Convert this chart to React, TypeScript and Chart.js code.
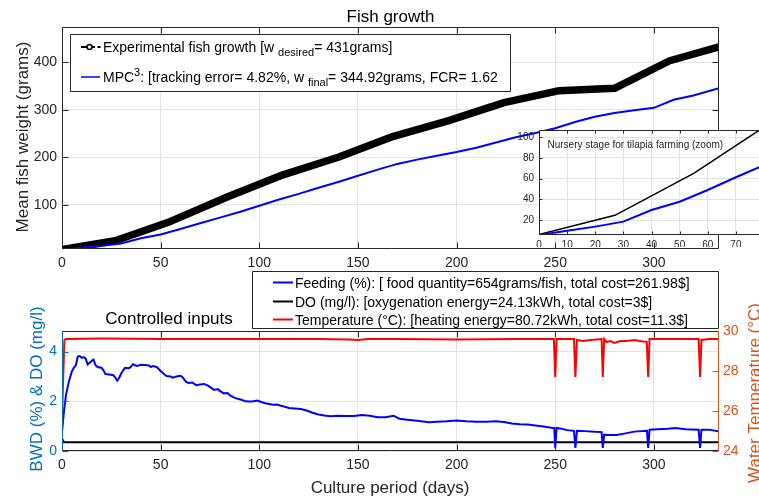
import React, { useEffect, useRef } from "react";
import { Chart, registerables } from "chart.js";

Chart.register(...registerables);

const FONT = '"Liberation Sans", Arial, Helvetica, sans-serif';
const AX = "#262626";
const GRID = "#e2e2e2";
const GRID2 = "#dfe3e8";
const LEFT_C = "#0072BD";
const RIGHT_C = "#D95319";

// ---------- Fish growth panel ----------
const expDays = [0, 27, 55, 84, 112, 140, 168, 196, 224, 252, 280, 308, 333];
const expWeight = [6, 24.5, 65, 117, 163, 200, 244, 277, 315, 340, 345, 403, 432];
const mpcDays = [0, 10, 20, 30, 40, 50, 60, 70, 80, 90, 100, 110, 120, 130, 140, 150, 160, 170, 180, 190, 200, 210, 220, 230, 240, 250, 260, 270, 280, 290, 300, 310, 320, 333];
const mpcWeight = [5.5, 9.6, 13.6, 18.4, 29.7, 37.7, 49, 61.3, 73, 85, 98, 111, 123, 136, 148, 161, 174, 186, 195, 203, 211, 220, 231, 242, 251, 261, 274, 285, 293, 299, 304, 321, 330, 345];
const growthXTicks = [0, 50, 100, 150, 200, 250, 300];
const growthYTicks = [100, 200, 300, 400];
const insetXTicks = [0, 10, 20, 30, 40, 50, 60, 70];
const insetYTicks = [20, 40, 60, 80, 100];

// ---------- Controlled inputs panel ----------
const feedDays = [0, 1, 2, 3.5, 5, 6, 7, 8, 9, 10, 11, 12, 13, 14, 15, 16, 17, 18, 20, 21, 22, 24, 26, 27, 28, 29, 30, 31, 32, 34, 35, 36, 37, 38, 40, 42, 44, 45, 46, 48, 49, 50, 52, 53, 55, 56, 58, 60, 61, 62, 63, 64, 66, 68, 70, 72, 74, 76, 77, 79, 80, 82, 84, 85, 87, 89, 91, 93, 95, 97, 99, 101, 103, 105, 107, 109, 111, 113, 115, 118, 121, 124, 127, 130, 133, 136, 140, 144, 148, 152, 156, 160, 164, 168, 171, 175, 180, 186, 190, 195, 200, 205, 210, 215, 220, 224, 228, 232, 236, 240, 244, 248, 249.5, 250, 250.7, 253, 256, 259.5, 260.2, 261, 265, 270, 273.5, 274.1, 274.8, 278, 281, 285, 290, 296.5, 297.1, 297.8, 302, 307, 311, 316, 322.7, 323.4, 324.1, 328, 333];
const feedValues = [0.75, 1.6, 2.25, 2.8, 3.2, 3.35, 3.45, 3.8, 3.82, 3.75, 3.78, 3.72, 3.48, 3.55, 3.62, 3.68, 3.45, 3.38, 3.35, 3.25, 3.1, 3.08, 3.05, 2.95, 2.83, 2.95, 3.12, 3.25, 3.35, 3.33, 3.4, 3.5, 3.45, 3.42, 3.47, 3.46, 3.44, 3.38, 3.42, 3.38, 3.3, 3.22, 3.08, 3.02, 3.0, 2.95, 3.0, 3.03, 2.98, 2.87, 2.78, 2.74, 2.76, 2.65, 2.68, 2.7, 2.63, 2.52, 2.46, 2.49, 2.42, 2.32, 2.33, 2.25, 2.16, 2.1, 2.06, 2.0, 1.99, 2.0, 2.03, 1.97, 1.92, 1.89, 1.86, 1.87, 1.82, 1.78, 1.73, 1.71, 1.69, 1.63, 1.54, 1.47, 1.43, 1.4, 1.42, 1.41, 1.41, 1.45, 1.42, 1.36, 1.36, 1.42, 1.3, 1.26, 1.22, 1.16, 1.18, 1.2, 1.23, 1.2, 1.18, 1.18, 1.2, 1.17, 1.11, 1.08, 1.07, 1.03, 0.99, 0.94, 0.93, 0.12, 0.93, 0.9, 0.84, 0.81, 0.12, 0.81, 0.8, 0.77, 0.76, 0.12, 0.65, 0.64, 0.64, 0.7, 0.78, 0.81, 0.12, 0.86, 0.88, 0.9, 0.93, 0.88, 0.86, 0.12, 0.86, 0.86, 0.78];
const doDays = [0, 1, 333];
const doValues = [0.5, 0.35, 0.35];
const tempDays = [0, 1.2, 2, 20, 50, 80, 100, 130, 145, 150, 155, 170, 200, 230, 249.3, 250, 250.7, 259.5, 260.2, 261, 264, 268, 273.5, 274.1, 274.8, 276, 278, 280, 283, 286, 290, 296.4, 297.1, 297.8, 305, 310, 322.7, 323.4, 324.1, 328, 333];
const tempValues = [25.7, 29.55, 29.6, 29.62, 29.6, 29.6, 29.6, 29.6, 29.58, 29.55, 29.6, 29.6, 29.57, 29.6, 29.6, 27.7, 29.6, 29.6, 27.7, 29.55, 29.5, 29.55, 29.6, 27.7, 29.6, 29.45, 29.5, 29.4, 29.5, 29.5, 29.55, 29.45, 27.7, 29.6, 29.6, 29.6, 29.6, 27.7, 29.55, 29.6, 29.6];
const leftYTicks = [0, 2, 4];
const rightYTicks = [24, 26, 28, 30];

const zip = (xs: number[], ys: number[]) => xs.map((x, i) => ({ x, y: ys[i] }));
const setTicks = (values: number[]) => (scale: any) => {
  scale.ticks = values.map((v) => ({ value: v }));
};
const fixWidth = (w: number) => (scale: any) => {
  scale.width = w;
};
const fixHeight = (h: number) => (scale: any) => {
  scale.height = h;
};

type Seg = { t: string; size?: number; dy?: number };
function drawRich(ctx: CanvasRenderingContext2D, x: number, y: number, segs: Seg[], base: number, color: string) {
  let cx = x;
  ctx.fillStyle = color;
  ctx.textAlign = "left";
  ctx.textBaseline = "alphabetic";
  for (const s of segs) {
    ctx.font = `${s.size ?? base}px ${FONT}`;
    ctx.fillText(s.t, cx, y + (s.dy ?? 0));
    cx += ctx.measureText(s.t).width;
  }
}
function drawRotated(ctx: CanvasRenderingContext2D, text: string, x: number, y: number, size: number, color: string) {
  ctx.save();
  ctx.translate(x, y);
  ctx.rotate(-Math.PI / 2);
  ctx.font = `${size}px ${FONT}`;
  ctx.fillStyle = color;
  ctx.textAlign = "center";
  ctx.textBaseline = "alphabetic";
  ctx.fillText(text, 0, 0);
  ctx.restore();
}
function drawText(ctx: CanvasRenderingContext2D, text: string, x: number, y: number, size: number, color: string, align: CanvasTextAlign = "center") {
  ctx.font = `${size}px ${FONT}`;
  ctx.fillStyle = color;
  ctx.textAlign = align;
  ctx.textBaseline = "alphabetic";
  ctx.fillText(text, x, y);
}
function seg(ctx: CanvasRenderingContext2D, x1: number, y1: number, x2: number, y2: number, c: string, w = 1) {
  ctx.strokeStyle = c;
  ctx.lineWidth = w;
  ctx.beginPath();
  ctx.moveTo(x1, y1);
  ctx.lineTo(x2, y2);
  ctx.stroke();
}

type FrameOpts = {
  xTicks: number[];
  yTicks: number[];
  y2Ticks?: number[];
  y2Id?: string;
  leftColor: string;
  rightColor: string;
  topColor: string;
  bottomColor: string;
  tickLen: number;
};
function framePlugin(o: FrameOpts) {
  return {
    id: "matlabFrame",
    afterDatasetsDraw(chart: any) {
      const { ctx, chartArea: a, scales } = chart;
      const L = Math.round(a.left) + 0.5;
      const R = Math.round(a.right) - 0.5;
      const T = Math.round(a.top) + 0.5;
      const B = Math.round(a.bottom) - 0.5;
      ctx.save();
      for (const v of o.xTicks) {
        const p = Math.round(scales.x.getPixelForValue(v)) + 0.5;
        seg(ctx, p, B, p, B - o.tickLen, o.bottomColor);
        seg(ctx, p, T, p, T + o.tickLen, o.topColor);
      }
      for (const v of o.yTicks) {
        const p = Math.round(scales.y.getPixelForValue(v)) + 0.5;
        seg(ctx, L, p, L + o.tickLen, p, o.leftColor);
        if (!o.y2Id) seg(ctx, R, p, R - o.tickLen, p, o.rightColor);
      }
      if (o.y2Id && o.y2Ticks) {
        for (const v of o.y2Ticks) {
          const p = Math.round(scales[o.y2Id].getPixelForValue(v)) + 0.5;
          seg(ctx, R, p, R - o.tickLen, p, o.rightColor);
        }
      }
      seg(ctx, L, T, R, T, o.topColor);
      seg(ctx, L, B, R, B, o.bottomColor);
      seg(ctx, L, T, L, B, o.leftColor);
      seg(ctx, R, T, R, B, o.rightColor);
      ctx.restore();
    },
  };
}

const tickFont = (size: number) => ({ family: FONT, size });

function topConfig(): any {
  return {
    type: "line",
    data: {
      datasets: [
        { data: zip(mpcDays, mpcWeight), borderColor: "#0000ff", borderWidth: 2, pointRadius: 0, tension: 0 },
        {
          data: zip(expDays, expWeight),
          borderColor: "#000000",
          backgroundColor: "#000000",
          borderWidth: 7.5,
          pointRadius: 0,
          borderCapStyle: "round",
          borderJoinStyle: "round",
          tension: 0,
        },
      ],
    },
    options: {
      responsive: false,
      animation: false,
      events: [],
      layout: { padding: { left: 0, top: 27, right: 40, bottom: 228 } },
      plugins: { legend: { display: false }, tooltip: { enabled: false }, title: { display: false } },
      scales: {
        x: {
          type: "linear",
          min: 0,
          max: 333,
          afterBuildTicks: setTicks(growthXTicks),
          afterFit: fixHeight(20),
          grid: { color: GRID, drawTicks: false },
          border: { display: false },
          ticks: { padding: 6, color: AX, font: tickFont(14), maxRotation: 0, autoSkip: false },
        },
        y: {
          type: "linear",
          min: 7,
          max: 474,
          afterBuildTicks: setTicks(growthYTicks),
          afterFit: fixWidth(62),
          grid: { color: GRID, drawTicks: false },
          border: { display: false },
          ticks: { padding: 5, color: AX, font: tickFont(14), autoSkip: false },
        },
      },
    },
    plugins: [
      framePlugin({ xTicks: growthXTicks, yTicks: growthYTicks, leftColor: AX, rightColor: AX, topColor: AX, bottomColor: AX, tickLen: 6 }),
      {
        id: "topExtras",
        afterDraw(chart: any) {
          const ctx: CanvasRenderingContext2D = chart.ctx;
          ctx.save();
          drawText(ctx, "Fish growth", 390.5, 21.5, 17, "#000");
          drawRotated(ctx, "Mean fish weight (grams)", 27.5, 137, 17, AX);
          // legend
          ctx.fillStyle = "#fff";
          ctx.fillRect(70.5, 34.5, 440, 57);
          seg(ctx, 70.5, 34.5, 510.5, 34.5, AX);
          seg(ctx, 70.5, 91.5, 510.5, 91.5, AX);
          seg(ctx, 70.5, 34.5, 70.5, 91.5, AX);
          seg(ctx, 510.5, 34.5, 510.5, 91.5, AX);
          seg(ctx, 81, 47, 95, 47, "#000", 2);
          seg(ctx, 97.5, 47, 100.5, 47, "#000", 2);
          ctx.beginPath();
          ctx.arc(89.5, 47, 2.5, 0, Math.PI * 2);
          ctx.fillStyle = "#fff";
          ctx.fill();
          ctx.lineWidth = 1.5;
          ctx.strokeStyle = "#000";
          ctx.stroke();
          drawRich(ctx, 103, 52, [
            { t: "Experimental fish growth [w " },
            { t: "desired", size: 11, dy: 4 },
            { t: "= 431grams]" },
          ], 14, "#000");
          seg(ctx, 81, 77, 100, 77, "#0000ff", 1.5);
          drawRich(ctx, 103, 82, [
            { t: "MPC" },
            { t: "3", size: 11, dy: -6 },
            { t: ": [tracking error= 4.82%, w " },
            { t: "final", size: 11, dy: 4 },
            { t: "= 344.92grams, FCR= 1.62" },
          ], 14, "#000");
          ctx.restore();
        },
      },
    ],
  };
}

function insetConfig(): any {
  return {
    type: "line",
    data: {
      datasets: [
        { data: zip(mpcDays, mpcWeight), borderColor: "#0000ff", borderWidth: 2, pointRadius: 0, tension: 0 },
        { data: zip(expDays, expWeight), borderColor: "#000000", borderWidth: 1.5, pointRadius: 0, tension: 0 },
      ],
    },
    options: {
      responsive: false,
      animation: false,
      events: [],
      layout: { padding: { left: 500, top: 130, right: 16, bottom: 250 } },
      plugins: { legend: { display: false }, tooltip: { enabled: false } },
      scales: {
        x: {
          type: "linear",
          min: 0,
          max: 80,
          afterBuildTicks: setTicks(insetXTicks),
          afterFit: fixHeight(12),
          grid: { color: GRID, drawTicks: false },
          border: { display: false },
          ticks: { padding: 4, color: AX, font: tickFont(10), maxRotation: 0, autoSkip: false },
        },
        y: {
          type: "linear",
          min: 5.5,
          max: 107,
          afterBuildTicks: setTicks(insetYTicks),
          afterFit: fixWidth(39),
          grid: { color: GRID, drawTicks: false },
          border: { display: false },
          ticks: { padding: 5, color: AX, font: tickFont(10), autoSkip: false },
        },
      },
    },
    plugins: [
      {
        id: "insetBg",
        beforeDraw(chart: any) {
          const { ctx, chartArea: a } = chart;
          ctx.save();
          ctx.fillStyle = "#fff";
          ctx.fillRect(a.left, a.top, a.right - a.left, a.bottom - a.top);
          ctx.restore();
        },
      },
      framePlugin({ xTicks: insetXTicks, yTicks: insetYTicks, leftColor: AX, rightColor: AX, topColor: AX, bottomColor: AX, tickLen: 3 }),
      {
        id: "insetText",
        afterDraw(chart: any) {
          const ctx: CanvasRenderingContext2D = chart.ctx;
          ctx.save();
          drawText(ctx, "Nursery stage for tilapia farming (zoom)", 547.5, 148, 10, AX, "left");
          ctx.restore();
        },
      },
    ],
  };
}

function bottomConfig(): any {
  return {
    type: "line",
    data: {
      datasets: [
        { data: zip(feedDays, feedValues), yAxisID: "y", borderColor: "#0000ff", borderWidth: 2, pointRadius: 0, tension: 0 },
        { data: zip(doDays, doValues), yAxisID: "y", borderColor: "#000000", borderWidth: 2, pointRadius: 0, tension: 0 },
        { data: zip(tempDays, tempValues), yAxisID: "y1", borderColor: "#ff0000", borderWidth: 2, pointRadius: 0, tension: 0 },
      ],
    },
    options: {
      responsive: false,
      animation: false,
      events: [],
      layout: { padding: { left: 0, top: 331, right: 0, bottom: 26 } },
      plugins: { legend: { display: false }, tooltip: { enabled: false } },
      scales: {
        x: {
          type: "linear",
          min: 0,
          max: 333,
          afterBuildTicks: setTicks(growthXTicks),
          afterFit: fixHeight(20),
          grid: { color: GRID2, drawTicks: false },
          border: { display: false },
          ticks: { padding: 6, color: AX, font: tickFont(14), maxRotation: 0, autoSkip: false },
        },
        y: {
          type: "linear",
          position: "left",
          min: 0,
          max: 4.83,
          afterBuildTicks: setTicks(leftYTicks),
          afterFit: fixWidth(62),
          grid: { color: GRID2, drawTicks: false },
          border: { display: false },
          ticks: { padding: 5, color: LEFT_C, font: tickFont(14), autoSkip: false },
        },
        y1: {
          type: "linear",
          position: "right",
          min: 24,
          max: 30,
          afterBuildTicks: setTicks(rightYTicks),
          afterFit: fixWidth(40),
          grid: { display: false, drawTicks: false },
          border: { display: false },
          ticks: { padding: 4, color: RIGHT_C, font: tickFont(14), autoSkip: false },
        },
      },
    },
    plugins: [
      framePlugin({
        xTicks: growthXTicks,
        yTicks: leftYTicks,
        y2Ticks: rightYTicks,
        y2Id: "y1",
        leftColor: LEFT_C,
        rightColor: RIGHT_C,
        topColor: AX,
        bottomColor: AX,
        tickLen: 6,
      }),
      {
        id: "bottomExtras",
        afterDraw(chart: any) {
          const ctx: CanvasRenderingContext2D = chart.ctx;
          ctx.save();
          drawText(ctx, "Controlled inputs", 169, 324, 17, "#000");
          drawText(ctx, "Culture period (days)", 390, 493, 17, AX);
          drawRotated(ctx, "BWD (%) & DO (mg/l)", 41.5, 389, 17, LEFT_C);
          drawRotated(ctx, "Water Temperature (°C)", 759.5, 393, 17, RIGHT_C);
          // legend
          ctx.fillStyle = "#fff";
          ctx.fillRect(252.5, 271.5, 466, 57);
          seg(ctx, 252.5, 271.5, 718.5, 271.5, AX);
          seg(ctx, 252.5, 328.5, 718.5, 328.5, AX);
          seg(ctx, 252.5, 271.5, 252.5, 328.5, AX);
          seg(ctx, 718.5, 271.5, 718.5, 328.5, AX);
          const rows: [string, string, number][] = [
            ["#0000ff", "Feeding (%): [ food quantity=654grams/fish, total cost=261.98$]", 288],
            ["#000000", "DO (mg/l): [oxygenation energy=24.13kWh, total cost=3$]", 307],
            ["#ff0000", "Temperature (°C): [heating energy=80.72kWh, total cost=11.3$]", 325],
          ];
          for (const [c, t, y] of rows) {
            seg(ctx, 273, y - 5.5, 293, y - 5.5, c, 2);
            drawText(ctx, t, 295, y, 14, "#000", "left");
          }
          ctx.restore();
        },
      },
    ],
  };
}

export default function App() {
  const topRef = useRef<HTMLCanvasElement>(null);
  const botRef = useRef<HTMLCanvasElement>(null);
  const insetRef = useRef<HTMLCanvasElement>(null);

  useEffect(() => {
    const charts: Chart[] = [];
    if (topRef.current) charts.push(new Chart(topRef.current, topConfig()));
    if (botRef.current) charts.push(new Chart(botRef.current, bottomConfig()));
    if (insetRef.current) charts.push(new Chart(insetRef.current, insetConfig()));
    return () => charts.forEach((c) => c.destroy());
  }, []);

  const abs = (w: number): React.CSSProperties => ({ position: "absolute", left: 0, top: 0, width: w, height: 497 });
  return (
    <div style={{ position: "absolute", left: 0, top: 0, width: 759, height: 497, overflow: "hidden", background: "#fff" }}>
      <canvas ref={topRef} width={759} height={497} style={abs(759)} />
      <canvas ref={botRef} width={759} height={497} style={abs(759)} />
      <canvas ref={insetRef} width={780} height={497} style={abs(780)} />
    </div>
  );
}
